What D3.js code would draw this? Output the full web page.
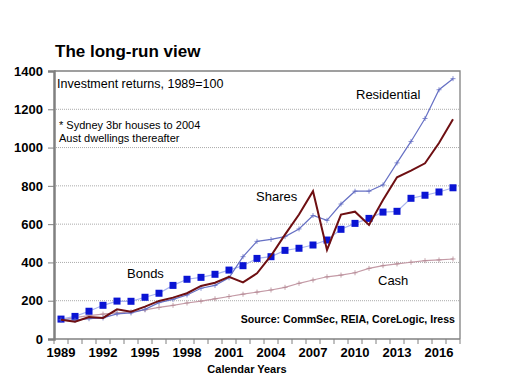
<!DOCTYPE html>
<html>
<head>
<meta charset="utf-8">
<script src="https://cdn.jsdelivr.net/npm/d3@7"></script>
<style>
  body { margin: 0; background: #fff; }
  text { font-family: "Liberation Sans", Arial, sans-serif; }
</style>
</head>
<body>
<div id="chart"></div>
<script>
const years = d3.range(1989, 2018)
const yTicks = [0, 200, 400, 600, 800, 1000, 1200, 1400]
const xLabels = [1989, 1992, 1995, 1998, 2001, 2004, 2007, 2010, 2013, 2016]

const residential = [100, 98, 106, 110, 131, 136, 155, 190, 207, 230, 265, 280, 320, 430, 510, 520, 535, 575, 645, 620, 705, 772, 772, 805, 920, 1032, 1152, 1302, 1360]
const shares = [100, 90, 115, 110, 155, 143, 169, 199, 216, 239, 277, 294, 325, 296, 343, 435, 545, 650, 772, 465, 650, 665, 596, 726, 845, 880, 918, 1024, 1148]
const bonds = [104, 118, 145, 176, 198, 197, 218, 239, 280, 312, 322, 338, 360, 383, 421, 430, 463, 474, 491, 517, 573, 604, 630, 663, 667, 735, 751, 768, 790]
const cash = [100, 112, 122, 130, 136, 142, 152, 165, 176, 188, 198, 210, 222, 234, 245, 256, 270, 291, 308, 325, 334, 346, 369, 383, 392, 401, 409, 413, 418]

const svg = d3.select("#chart").append("svg")
  .attr("width", 514).attr("height", 385)

const mLeft = 54, mRight = 460, mTop = 71, mBottom = 339

const x = d3.scaleBand().domain(years).range([mLeft, mRight])
const y = d3.scaleLinear().domain([0, 1400]).range([mBottom, mTop])
const cx = (i) => x(years[i]) + x.bandwidth() / 2

// title
svg.append("text").attr("x", 55).attr("y", 57)
  .attr("font-size", 17).attr("font-weight", "bold").text("The long-run view")

// gridlines
svg.append("g").selectAll("line").data(yTicks.filter((d) => d > 0 && d < 1400)).enter()
  .append("line")
  .attr("x1", mLeft).attr("x2", mRight)
  .attr("y1", (d) => y(d)).attr("y2", (d) => y(d))
  .attr("stroke", "#aaa").attr("stroke-dasharray", "1,1")

// plot border (top / right)
svg.append("path")
  .attr("d", `M${mLeft},${mTop} H${mRight} V${mBottom}`)
  .attr("fill", "none").attr("stroke", "#808080").attr("stroke-width", 1.3)

// y axis
const yAxis = svg.append("g").attr("transform", `translate(${mLeft},0)`)
  .call(d3.axisLeft(y).tickValues(yTicks).tickFormat(d3.format("d")).tickSize(6).tickPadding(5))
yAxis.select(".domain").attr("stroke", "#808080").attr("stroke-width", 2.5)
yAxis.selectAll(".tick line").attr("stroke", "#808080")
yAxis.selectAll("text").attr("font-size", 13).attr("font-weight", "bold")
  .attr("font-family", "Liberation Sans, Arial, sans-serif").attr("fill", "#000")

// x axis
const xAxis = svg.append("g").attr("transform", `translate(0,${mBottom})`)
xAxis.append("line").attr("x1", mLeft).attr("x2", mRight)
  .attr("stroke", "#808080").attr("stroke-width", 1.3)
xAxis.selectAll(".tk").data(years.concat([2018])).enter().append("line")
  .attr("x1", (d) => (d === 2018 ? mRight : x(d)))
  .attr("x2", (d) => (d === 2018 ? mRight : x(d)))
  .attr("y1", 0).attr("y2", 5).attr("stroke", "#808080")
xAxis.selectAll("text").data(xLabels).enter().append("text")
  .attr("x", (d) => x(d) + x.bandwidth() / 2).attr("y", 17.5)
  .attr("text-anchor", "middle").attr("font-size", 13).attr("font-weight", "bold")
  .text((d) => d)
svg.append("text").attr("x", 247).attr("y", 373).attr("text-anchor", "middle")
  .attr("font-size", 11).attr("font-weight", "bold").text("Calendar Years")

const line = d3.line().x((d, i) => cx(i)).y((d) => y(d))

function crosses(data, color) {
  svg.append("g").selectAll("path").data(data).enter().append("path")
    .attr("d", (d, i) => `M${cx(i) - 2.5},${y(d)} h5 M${cx(i)},${y(d) - 2.5} v5`)
    .attr("stroke", color).attr("stroke-width", 0.8)
}

// cash
svg.append("path").datum(cash).attr("d", line)
  .attr("fill", "none").attr("stroke", "#c49aa6").attr("stroke-width", 1.2)
crosses(cash, "#b58a96")

// bonds
svg.append("path").datum(bonds).attr("d", line)
  .attr("fill", "none").attr("stroke", "#a9b4ee").attr("stroke-width", 1.2)
svg.append("g").selectAll("rect").data(bonds).enter().append("rect")
  .attr("x", (d, i) => cx(i) - 3.5).attr("y", (d) => y(d) - 3.5)
  .attr("width", 7).attr("height", 7).attr("fill", "#0a14d4")

// residential
svg.append("path").datum(residential).attr("d", line)
  .attr("fill", "none").attr("stroke", "#6670c4").attr("stroke-width", 1.2)
crosses(residential, "#6670c4")

// shares
svg.append("path").datum(shares).attr("d", line)
  .attr("fill", "none").attr("stroke", "#6e0f12").attr("stroke-width", 2)

// annotations
const notes = [
  { t: "Investment returns, 1989=100", x: 57, y: 88, s: 12.5 },
  { t: "* Sydney 3br houses to 2004", x: 59, y: 129, s: 11 },
  { t: "Aust dwellings thereafter", x: 59, y: 142, s: 11 },
  { t: "Residential", x: 356, y: 99, s: 13 },
  { t: "Shares", x: 256, y: 201, s: 13 },
  { t: "Bonds", x: 127, y: 278, s: 13 },
  { t: "Cash", x: 378, y: 285, s: 13 },
]
svg.append("g").selectAll("text").data(notes).enter().append("text")
  .attr("x", (d) => d.x).attr("y", (d) => d.y).attr("font-size", (d) => d.s)
  .text((d) => d.t)

svg.append("text").attr("x", 455).attr("y", 323).attr("text-anchor", "end")
  .attr("font-size", 10.6).attr("font-weight", "bold")
  .text("Source: CommSec, REIA, CoreLogic, Iress")
</script>
</body>
</html>
